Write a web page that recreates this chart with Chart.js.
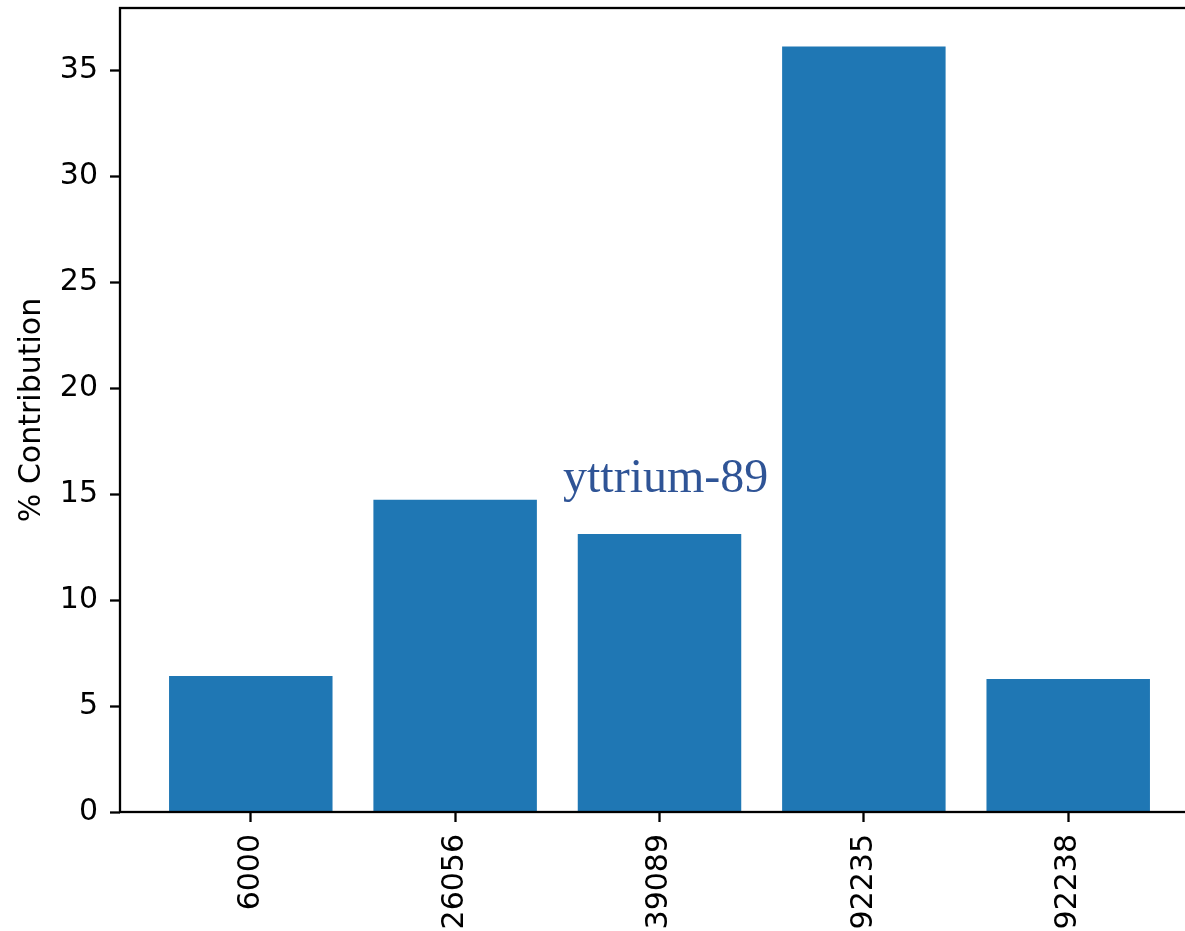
<!DOCTYPE html>
<html>
<head>
<meta charset="utf-8">
<script src="https://cdn.jsdelivr.net/npm/chart.js@4"></script>
<style>
  html, body { margin: 0; padding: 0; background: #fff; overflow: hidden; }
  #wrap { width: 1199px; height: 931px; }
</style>
</head>
<body>
<div id="wrap"><canvas id="barChart"></canvas></div>
<script>
'use strict'

const nuclides = ['6000', '26056', '39089', '92235', '92238'];
const contribution = [6.42, 14.74, 13.13, 36.14, 6.28];
const yTicks = [0, 5, 10, 15, 20, 25, 30, 35];
const note = { text: 'yttrium-89', x: 2.03, y: 15.1 };

const tickFont = { family: 'DejaVu Sans', size: 30 };

// frame around the plot area plus the text note
const frame = {
  id: 'frame',
  afterDraw(chart) {
    const { ctx, chartArea: a, scales } = chart;
    ctx.save();
    ctx.strokeStyle = '#000';
    ctx.lineWidth = 2.3;
    ctx.strokeRect(a.left, a.top, a.right - a.left, a.bottom - a.top);
    ctx.fillStyle = '#2f5496';
    ctx.font = '48px "Liberation Serif"';
    ctx.textAlign = 'center';
    ctx.textBaseline = 'alphabetic';
    ctx.fillText(note.text, scales.x.getPixelForValue(note.x), scales.y.getPixelForValue(note.y));
    ctx.restore();
  }
};

const noPad = (s) => {
  s.paddingTop = 0; s.paddingBottom = 0;
  s.paddingLeft = 0; s.paddingRight = 0;
};

new Chart(document.getElementById('barChart'), {
  type: 'bar',
  data: {
    datasets: [{
      data: contribution.map((v, i) => ({ x: i, y: v })),
      backgroundColor: '#1f77b4',
      borderWidth: 0,
      barPercentage: 0.8,
      categoryPercentage: 1.0,
    }]
  },
  options: {
    responsive: true,
    maintainAspectRatio: false,
    animation: false,
    layout: { padding: { top: 8, right: 0, left: 0, bottom: 0 } },
    plugins: { legend: { display: false }, tooltip: { enabled: false } },
    scales: {
      x: {
        type: 'linear',
        offset: false,
        min: -0.64,
        max: 4.64,
        afterFit: (s) => { s.height = 119; noPad(s); },
        afterBuildTicks: (s) => { s.ticks = nuclides.map((n, i) => ({ value: i })); },
        grid: { offset: false, drawOnChartArea: false, tickLength: 10, tickWidth: 2.3, color: '#000' },
        border: { display: false },
        ticks: {
          color: '#000',
          font: tickFont,
          padding: 12,
          minRotation: 90,
          maxRotation: 90,
          callback: (v) => nuclides[v],
        },
      },
      y: {
        min: 0,
        max: 37.96,
        afterFit: (s) => { s.width = 120; noPad(s); },
        afterBuildTicks: (s) => { s.ticks = yTicks.map(v => ({ value: v })); },
        grid: { drawOnChartArea: false, tickLength: 10, tickWidth: 2.3, color: '#000' },
        border: { display: false },
        ticks: { color: '#000', font: tickFont, padding: 12 },
        title: {
          display: true,
          text: '% Contribution',
          color: '#000',
          font: tickFont,
          padding: { top: 14, bottom: 0 },
        },
      },
    },
  },
  plugins: [frame],
});
</script>
</body>
</html>
